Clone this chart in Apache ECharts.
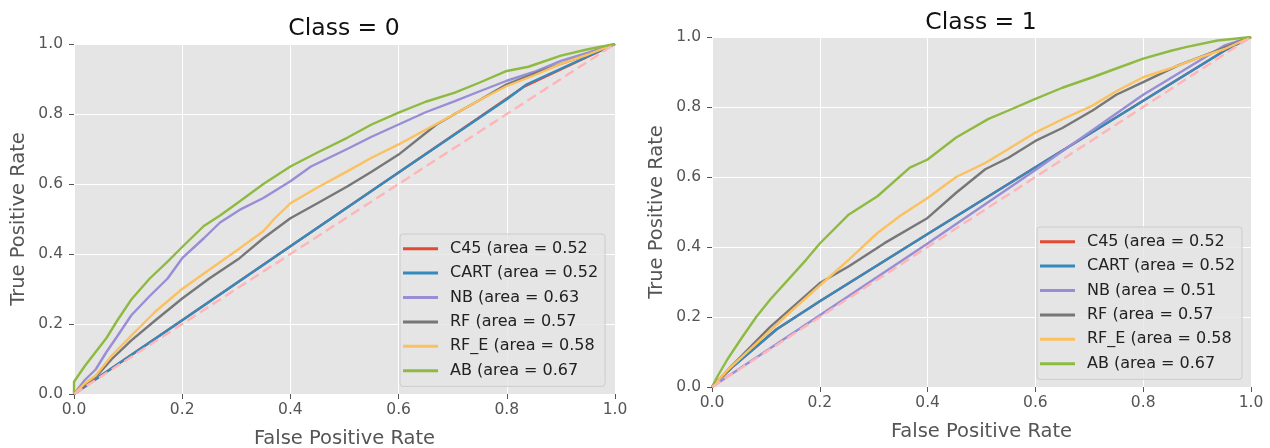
<!DOCTYPE html>
<html>
<head>
<meta charset="utf-8">
<title>ROC curves</title>
<script src="https://cdn.jsdelivr.net/npm/echarts@6/dist/echarts.min.js"></script>
<style>
  html, body { margin: 0; padding: 0; background: #fff; }
  #chart { width: 1270px; height: 448px; }
</style>
</head>
<body>
<div id="chart"></div>
<script>
// ---- ROC data, class 0 (false positive rate / true positive rate) ----
const c45Fpr0  = [0, 0.2, 0.4, 0.6, 0.8, 0.833, 1];
const c45Tpr0  = [0, 0.211, 0.422, 0.633, 0.844, 0.879, 1];
const cartFpr0 = [0, 0.2, 0.4, 0.6, 0.8, 0.837, 1];
const cartTpr0 = [0, 0.211, 0.422, 0.633, 0.842, 0.885, 1];
const nbFpr0   = [0, 0.02, 0.04, 0.06, 0.08, 0.106, 0.14, 0.173, 0.2, 0.24, 0.27, 0.306, 0.35, 0.4, 0.438, 0.505, 0.55, 0.6, 0.65, 0.704, 0.75, 0.8, 0.85, 0.9, 0.95, 1];
const nbTpr0   = [0, 0.04, 0.07, 0.12, 0.165, 0.225, 0.28, 0.33, 0.388, 0.445, 0.49, 0.526, 0.56, 0.608, 0.65, 0.7, 0.735, 0.77, 0.805, 0.837, 0.865, 0.895, 0.92, 0.952, 0.975, 1];
const rfFpr0   = [0, 0.02, 0.04, 0.07, 0.106, 0.15, 0.2, 0.25, 0.306, 0.35, 0.4, 0.45, 0.505, 0.55, 0.6, 0.67, 0.704, 0.75, 0.8, 0.85, 0.9, 0.95, 1];
const rfTpr0   = [0, 0.025, 0.048, 0.1, 0.153, 0.21, 0.273, 0.33, 0.388, 0.445, 0.502, 0.545, 0.593, 0.635, 0.684, 0.77, 0.8, 0.84, 0.885, 0.915, 0.943, 0.97, 1];
const rfeFpr0  = [0, 0.02, 0.04, 0.07, 0.106, 0.15, 0.2, 0.25, 0.306, 0.35, 0.37, 0.4, 0.45, 0.505, 0.55, 0.6, 0.65, 0.704, 0.75, 0.8, 0.85, 0.9, 0.95, 1];
const rfeTpr0  = [0, 0.03, 0.053, 0.11, 0.167, 0.235, 0.3, 0.355, 0.416, 0.465, 0.5, 0.545, 0.59, 0.636, 0.675, 0.713, 0.755, 0.8, 0.84, 0.88, 0.91, 0.943, 0.97, 1];
const abFpr0   = [0, 0, 0.02, 0.04, 0.06, 0.08, 0.106, 0.14, 0.173, 0.2, 0.24, 0.27, 0.306, 0.35, 0.4, 0.45, 0.505, 0.55, 0.6, 0.65, 0.704, 0.75, 0.8, 0.84, 0.9, 0.95, 1];
const abTpr0   = [0, 0.035, 0.08, 0.12, 0.16, 0.21, 0.27, 0.33, 0.378, 0.42, 0.48, 0.51, 0.55, 0.6, 0.65, 0.69, 0.732, 0.77, 0.804, 0.835, 0.861, 0.89, 0.923, 0.935, 0.967, 0.985, 1];

// ---- ROC data, class 1 ----
const c45Fpr1  = [0, 0.04, 0.12, 0.2, 0.4, 0.6, 0.8, 0.952, 1];
const c45Tpr1  = [0, 0.06, 0.165, 0.245, 0.437, 0.628, 0.818, 0.962, 1];
const cartFpr1 = [0, 0.04, 0.12, 0.2, 0.4, 0.6, 0.8, 0.952, 1];
const cartTpr1 = [0, 0.06, 0.165, 0.245, 0.437, 0.628, 0.818, 0.962, 1];
const nbFpr1   = [0, 0.2, 0.4, 0.6, 0.8, 0.95, 1];
const nbTpr1   = [0, 0.205, 0.41, 0.62, 0.835, 0.975, 1];
const rfFpr1   = [0, 0.029, 0.108, 0.2, 0.254, 0.32, 0.4, 0.453, 0.507, 0.55, 0.6, 0.65, 0.706, 0.75, 0.8, 0.865, 0.938, 1];
const rfTpr1   = [0, 0.048, 0.172, 0.297, 0.345, 0.411, 0.483, 0.555, 0.622, 0.655, 0.703, 0.74, 0.79, 0.835, 0.871, 0.919, 0.962, 1];
const rfeFpr1  = [0, 0.029, 0.082, 0.135, 0.2, 0.254, 0.307, 0.35, 0.4, 0.453, 0.507, 0.55, 0.6, 0.65, 0.706, 0.75, 0.8, 0.85, 0.905, 0.95, 1];
const rfeTpr1  = [0, 0.048, 0.124, 0.2, 0.29, 0.364, 0.44, 0.49, 0.54, 0.6, 0.64, 0.68, 0.727, 0.765, 0.804, 0.845, 0.885, 0.91, 0.942, 0.965, 1];
const abFpr1   = [0, 0.01, 0.029, 0.055, 0.082, 0.108, 0.141, 0.175, 0.2, 0.254, 0.307, 0.367, 0.4, 0.453, 0.513, 0.55, 0.6, 0.65, 0.706, 0.75, 0.8, 0.85, 0.879, 0.938, 1];
const abTpr1   = [0, 0.03, 0.08, 0.14, 0.2, 0.25, 0.306, 0.364, 0.41, 0.493, 0.545, 0.627, 0.65, 0.713, 0.766, 0.79, 0.823, 0.855, 0.885, 0.91, 0.938, 0.96, 0.971, 0.99, 1];

// chance diagonal
const diagFpr = [0, 1];
const diagTpr = [0, 1];

// legend labels
const labels0 = ['C45 (area = 0.52', 'CART (area = 0.52', 'NB (area = 0.63', 'RF (area = 0.57', 'RF_E (area = 0.58', 'AB (area = 0.67'];
const labels1 = ['C45 (area = 0.52', 'CART (area = 0.52', 'NB (area = 0.51', 'RF (area = 0.57', 'RF_E (area = 0.58', 'AB (area = 0.67'];
const titles = ['Class = 0', 'Class = 1'];
const colors = ['#E24A33', '#348ABD', '#988ED5', '#777777', '#FBC15E', '#8EBA42'];

const zip = (xs, ys) => xs.map((x, i) => [x, ys[i]]);

const curves0 = [[c45Fpr0, c45Tpr0], [cartFpr0, cartTpr0], [nbFpr0, nbTpr0], [rfFpr0, rfTpr0], [rfeFpr0, rfeTpr0], [abFpr0, abTpr0]];
const curves1 = [[c45Fpr1, c45Tpr1], [cartFpr1, cartTpr1], [nbFpr1, nbTpr1], [rfFpr1, rfTpr1], [rfeFpr1, rfeTpr1], [abFpr1, abTpr1]];

const FONT = 'DejaVu Sans';
const grids = [
  { left: 74, top: 44, width: 541, height: 350 },
  { left: 712, top: 37, width: 539, height: 350 }
];

function makeAxis(idx, isX) {
  return {
    type: 'value',
    gridIndex: idx,
    min: 0, max: 1, interval: 0.2,
    name: isX ? 'False Positive Rate' : 'True Positive Rate',
    nameLocation: 'middle',
    nameGap: isX ? 35 : 45,
    nameTextStyle: { color: '#555555', fontSize: 19.5, fontFamily: FONT },
    axisLine: { show: false },
    axisTick: { show: true, length: 5, inside: false, lineStyle: { color: '#555555', width: 1 } },
    axisLabel: {
      color: '#555555', fontSize: 15.5, fontFamily: FONT, margin: isX ? 8 : 11,
      formatter: v => v.toFixed(1)
    },
    splitLine: { show: true, lineStyle: { color: '#ffffff', width: 1 } }
  };
}

const series = [];
function addPanel(idx, curves, labels) {
  curves.forEach((c, i) => {
    series.push({
      type: 'line',
      name: labels[i],
      xAxisIndex: idx, yAxisIndex: idx,
      data: zip(c[0], c[1]),
      symbol: 'none',
      color: colors[i],
      lineStyle: { color: colors[i], width: 2.4 },
      animation: false,
      z: 2 + i
    });
  });
  series.push({
    type: 'line',
    name: 'diagonal',
    xAxisIndex: idx, yAxisIndex: idx,
    data: zip(diagFpr, diagTpr),
    symbol: 'none',
    lineStyle: { color: '#FFB5B8', width: 2.4, type: [10, 5] },
    animation: false,
    z: 10
  });
}
addPanel(0, curves0, labels0);
addPanel(1, curves1, labels1);

function makeLegend(left, top, labels) {
  return {
    orient: 'vertical',
    left: left, top: top,
    data: labels,
    icon: 'rect',
    itemWidth: 35, itemHeight: 3,
    itemGap: 7,
    padding: [6, 7, 7, 3],
    backgroundColor: 'rgba(229,229,229,0.8)',
    borderColor: '#CCCCCC', borderWidth: 1, borderRadius: 3,
    selectedMode: false,
    textStyle: { color: '#222222', fontSize: 16, fontFamily: FONT, lineHeight: 17.4, padding: [0, 0, 0, 7] }
  };
}

const chart = echarts.init(document.getElementById('chart'), null, { renderer: 'canvas' });
chart.setOption({
  backgroundColor: '#ffffff',
  animation: false,
  title: [
    { text: titles[0], left: 339, top: 12, textAlign: 'center',
      textStyle: { fontSize: 23.5, fontWeight: 'normal', color: '#111111', fontFamily: FONT } },
    { text: titles[1], left: 976, top: 6, textAlign: 'center',
      textStyle: { fontSize: 23.5, fontWeight: 'normal', color: '#111111', fontFamily: FONT } }
  ],
  // fixed plot rectangles: no automatic shrinking to fit labels
  grid: grids.map(g => Object.assign({
    show: true, backgroundColor: '#E5E5E5', borderWidth: 0,
    containLabel: false, outerBoundsMode: 'none'
  }, g)),
  xAxis: [makeAxis(0, true), makeAxis(1, true)],
  yAxis: [makeAxis(0, false), makeAxis(1, false)],
  legend: [makeLegend(400, 234, labels0), makeLegend(1037, 227, labels1)],
  series: series
});
</script>
</body>
</html>
